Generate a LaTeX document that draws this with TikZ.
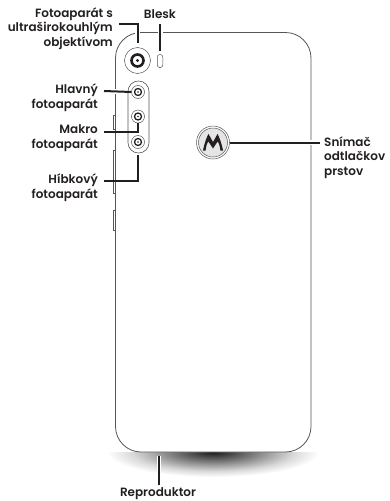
\documentclass[tikz,border=0pt]{standalone}
\usepackage{fontspec}
\setmainfont{Poppins SemiBold}
\usetikzlibrary{calc,shapes.geometric}
\definecolor{inkc}{HTML}{231F20}
\definecolor{bodyc}{HTML}{555555}
\pgfdeclareradialshading{shadowfade}{\pgfpoint{0bp}{0bp}}{%
  color(0bp)=(black!90);color(5bp)=(black!70);color(12bp)=(black!42);color(19bp)=(black!15);color(25bp)=(white);color(50bp)=(white)}
\tikzset{
  lab/.style={inner sep=0pt,font=\fontsize{12}{14.5}\selectfont,text=inkc,align=right},
  labl/.style={lab,align=left},
  leader/.style={draw=inkc,line width=2pt,line cap=butt},
  halo/.style={draw=white,line width=5pt},
  ph/.style={draw=bodyc,line width=0.8pt},
  cam/.style={circle,draw=bodyc,line width=0.5pt,fill=white,minimum size=#1,inner sep=0pt},
}
\begin{document}
\begin{tikzpicture}[x=1pt,y=-1pt]
\useasboundingbox (0,0) rectangle (389,501);
% shadow
\begin{scope}
\clip (100,452) rectangle (330,480);
\path[shading=shadowfade] (213,452) ellipse [x radius=106,y radius=25];
\end{scope}
% body
\draw[ph,fill=white,rounded corners=25.5pt] (115.5,32.5) rectangle (311,452);
% side buttons
\draw[bodyc,line width=0.6pt] (115,115) -- (113.6,115) -- (113.6,129) -- (115,129);
\draw[bodyc,line width=0.6pt] (115,150) -- (113.6,150) -- (113.6,193) -- (115,193);
\draw[bodyc,line width=0.6pt] (115,210) -- (113.6,210) -- (113.6,230) -- (115,230);
% flash
\node[draw=bodyc,line width=0.5pt,rectangle,rounded corners=2.5pt,minimum width=5.5pt,minimum height=13pt,inner sep=0pt] (flash) at (160,61) {};
% main camera
\node[cam=26pt] (wide) at (137.5,60.5) {};
\node[circle,draw=inkc,line width=2.6pt,minimum size=12pt,inner sep=0pt] at (wide) {};
\fill[inkc] (wide) circle (1.6pt);
% island
\draw[bodyc,line width=0.6pt,fill=white,rounded corners=10.4pt] (128,81) rectangle (149,153);
\foreach \n/\yy in {mainc/92,macroc/116.5,depthc/142}{
  \node[cam=13pt] (\n) at (138,\yy) {};
  \node[circle,draw=inkc,line width=1.3pt,minimum size=7pt,inner sep=0pt] at (\n) {};
  \fill[inkc] (\n) circle (0.9pt);
}
% logo
\node[circle,draw=bodyc,line width=0.5pt,fill=white,minimum size=33pt,inner sep=0pt] (logo) at (213,142.5) {};
\node[circle,draw=bodyc,line width=0.5pt,fill=black!10,minimum size=29pt,inner sep=0pt] at (logo) {};
\fill[inkc] ($(logo)+(-10,8)$) .. controls ($(logo)+(-8.5,0)$) and ($(logo)+(-6,-6)$) .. ($(logo)+(-4.5,-8.5)$) -- ($(logo)+(0,-0.5)$) -- ($(logo)+(4.5,-8.5)$) .. controls ($(logo)+(6,-6)$) and ($(logo)+(8.5,0)$) .. ($(logo)+(10,8)$) -- ($(logo)+(7.4,8)$) .. controls ($(logo)+(7,3)$) and ($(logo)+(5.5,0)$) .. ($(logo)+(4.6,-1)$) -- ($(logo)+(0,6)$) -- ($(logo)+(-4.6,-1)$) .. controls ($(logo)+(-5.5,0)$) and ($(logo)+(-7,3)$) .. ($(logo)+(-7.4,8)$) -- cycle;
% labels
\node[lab,anchor=east] (lwide) at (113,28.5) {Fotoaparát s\\ultraširokouhlým\\objektívom};
\node[lab,anchor=center] (lflash) at (160,14) {Blesk};
\node[lab,anchor=east] (lmain) at (98,97.5) {Hlavný\\fotoaparát};
\node[lab,anchor=east] (lmacro) at (98,138) {Makro\\fotoaparát};
\node[lab,anchor=east] (ldepth) at (98,187.5) {Híbkový\\fotoaparát};
\node[labl,anchor=west] (lsensor) at (324,157.5) {Snímač\\odtlačkov\\prstov};
\node[lab,anchor=center] (lspeak) at (158,494) {Reproduktor};
% leader anchors
\coordinate (awide) at (119,23.5);
\coordinate (aflash) at (160,24);
\coordinate (amain) at (104,91);
\coordinate (amacro) at (104,132);
\coordinate (adepth) at (104,181);
\coordinate (asensor) at (320,142.5);
\coordinate (aspeak) at (159,485);
\coordinate (aspeakend) at (159,456);
% halos
\draw[halo] (awide) -| (137.5,45);
\draw[halo] (aflash) -- (160,52);
\draw[halo] (amain) -- (127,91);
\draw[halo] (logo.east) -- (asensor);
\draw[halo,line width=3.5pt] (aspeak) -- (aspeakend);
% leaders
\draw[leader,shorten >=4pt] (awide) -| (wide.north);
\draw[leader,shorten >=3pt] (aflash) -- (flash.north);
\draw[leader] (amain) -- (mainc.west);
\draw[leader] (amacro) -| (macroc.south);
\draw[leader] (adepth) -- (138,181) -- (138,155);
\draw[leader] (logo.east) -- (asensor);
\draw[leader] (aspeak) -- (aspeakend);
\end{tikzpicture}
\end{document}
